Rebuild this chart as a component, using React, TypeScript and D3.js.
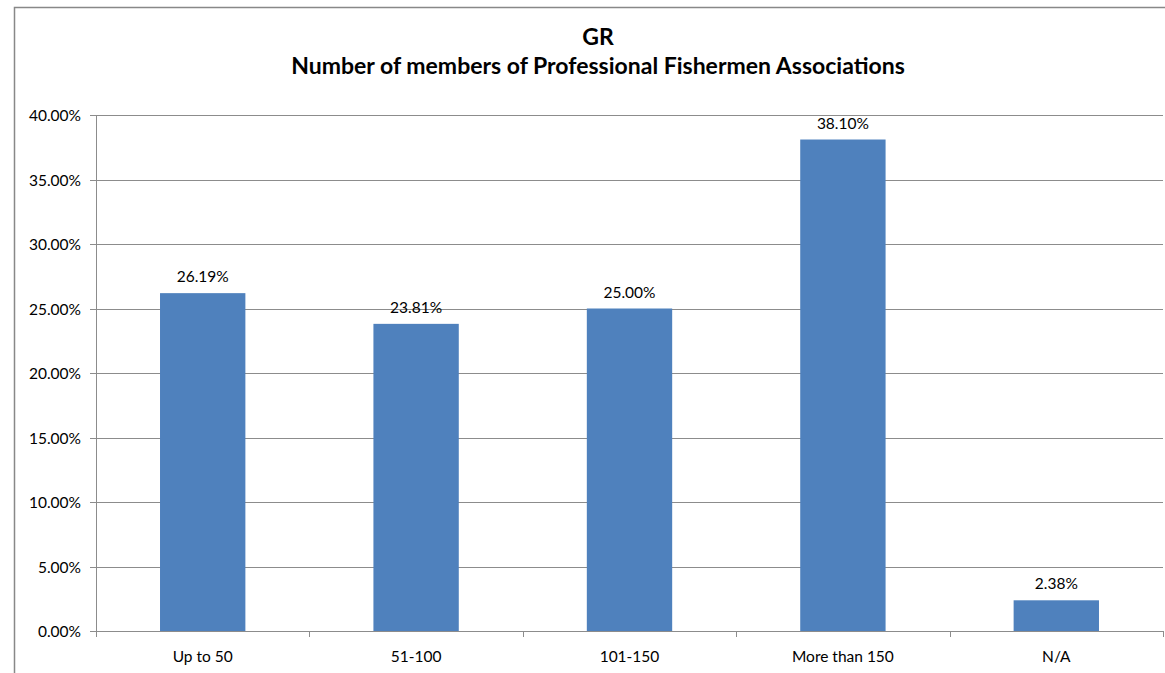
import * as d3 from "d3";
import * as React from "react";

const categories = ["Up to 50", "51-100", "101-150", "More than 150", "N/A"];
const shares = [26.19, 23.81, 25.0, 38.1, 2.38];
const yTicks = [0, 5, 10, 15, 20, 25, 30, 35, 40];
const titleLines = ["GR", "Number of members of Professional Fishermen Associations"];

const FONT = "Lato, 'Open Sans', sans-serif";

export default function App() {
  const width = 1165,
    height = 673;
  const margin = { top: 115, right: 2, bottom: 42, left: 96 };
  const w = width - margin.left - margin.right,
    h = height - margin.top - margin.bottom;

  const x = d3.scaleBand<string>().domain(categories).range([0, w]).padding(0);
  const y = d3.scaleLinear().domain([0, 40]).range([h, 0]);
  const barW = x.bandwidth() * 0.4;
  const fmt = (v: number) => v.toFixed(2) + "%";

  // category boundaries for the x tick marks
  const bounds = categories.map((c) => x(c) as number).concat([w]);

  return (
    <svg
      width={width}
      height={height}
      style={{ position: "absolute", left: 0, top: 0, background: "#fff" }}
      fontFamily={FONT}
    >
      <rect x={14.5} y={7.5} width={1180} height={700} fill="#fff" stroke="#888" strokeWidth={1.5} />
      {titleLines.map((t, i) => (
        <text
          key={i}
          x={598}
          y={45 + i * 29}
          textAnchor="middle"
          fontSize={23}
          fontWeight="bold"
          fill="#000"
        >
          {t}
        </text>
      ))}
      <g transform={`translate(${margin.left},${margin.top})`}>
        {yTicks.map((t) => (
          <g key={t} transform={`translate(0,${Math.round(y(t)) + 0.5})`}>
            <line x1={-6} x2={w} stroke="#8c8c8c" strokeWidth={1} />
            <text x={-15} dy="0.35em" textAnchor="end" fontSize={15.5} fill="#000">
              {t.toFixed(2) + "%"}
            </text>
          </g>
        ))}
        <line x1={0.5} x2={0.5} y1={0} y2={h} stroke="#8c8c8c" />
        {bounds.map((b, i) => (
          <line
            key={i}
            x1={Math.round(b) + 0.5}
            x2={Math.round(b) + 0.5}
            y1={h}
            y2={h + 6}
            stroke="#8c8c8c"
          />
        ))}
        {categories.map((c, i) => {
          const cx = (x(c) as number) + x.bandwidth() / 2;
          return (
            <g key={c}>
              <rect
                x={cx - barW / 2}
                y={y(shares[i])}
                width={barW}
                height={h - y(shares[i])}
                fill="#4f81bd"
              />
              <text x={cx} y={y(shares[i]) - 11} textAnchor="middle" fontSize={15.5} fill="#000">
                {fmt(shares[i])}
              </text>
              <text x={cx} y={h + 31} textAnchor="middle" fontSize={15.5} fill="#000">
                {c}
              </text>
            </g>
          );
        })}
      </g>
    </svg>
  );
}
